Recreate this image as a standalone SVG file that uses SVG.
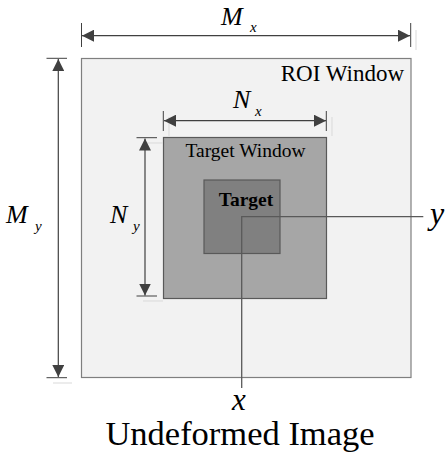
<svg xmlns="http://www.w3.org/2000/svg" width="446" height="456" viewBox="0 0 446 456">
<defs>
<style>
.lbl{font-family:"Liberation Serif","Times New Roman",serif;fill:#000}
.it{font-style:italic}
.dim{stroke:#404040;stroke-width:1.2;fill:none}
.tick{stroke:#404040;stroke-width:1}
.faint{stroke:#d9d9d9;stroke-width:1}
.axis{stroke:#595959;stroke-width:1.3;fill:none}
</style>
<marker id="ah" viewBox="0 0 12 12" refX="12" refY="6" markerWidth="12" markerHeight="12" markerUnits="userSpaceOnUse" orient="auto-start-reverse">
<path d="M0,0 L12,6 L0,12 Z" fill="#404040"/>
</marker>
</defs>
<rect width="446" height="456" fill="#ffffff"/>
<g id="roi-window">
<rect x="81.5" y="58.5" width="329.5" height="319" fill="#f2f2f2" stroke="#7f7f7f" stroke-width="1.2"/>
<text class="lbl" x="404" y="80.5" font-size="23" text-anchor="end">ROI Window</text>
</g>
<g id="target-window">
<rect x="163.5" y="137.5" width="163" height="161" fill="#a6a6a6" stroke="#595959" stroke-width="1.2"/>
<text class="lbl" x="245.5" y="157" font-size="19.5" text-anchor="middle" fill="#262626">Target Window</text>
</g>
<g id="target">
<rect x="204" y="180" width="76" height="73.5" fill="#808080" stroke="#595959" stroke-width="1.2"/>
<text class="lbl" x="246" y="206" font-size="19.5" font-weight="bold" text-anchor="middle" fill="#1a1a1a">Target</text>
</g>
<g id="connectors">
<line class="tick" x1="81.5" y1="23" x2="81.5" y2="47"/>
<line class="tick" x1="410.7" y1="23" x2="410.7" y2="47"/>
<line class="faint" x1="416" y1="30" x2="416" y2="50"/>
<line class="dim" x1="82" y1="35.7" x2="410" y2="35.7" marker-start="url(#ah)" marker-end="url(#ah)"/>
<line class="tick" x1="46.5" y1="58.3" x2="67" y2="58.3"/>
<line class="tick" x1="46.5" y1="377.7" x2="67" y2="377.7"/>
<line class="faint" x1="53" y1="383" x2="72" y2="383"/>
<line class="dim" x1="58.3" y1="59" x2="58.3" y2="377" marker-start="url(#ah)" marker-end="url(#ah)"/>
<line class="tick" x1="136.5" y1="137.7" x2="157" y2="137.7"/>
<line class="tick" x1="136.5" y1="296" x2="157" y2="296"/>
<line class="faint" x1="143" y1="143" x2="163" y2="143"/>
<line class="faint" x1="143" y1="301" x2="163" y2="301"/>
<line class="dim" x1="145" y1="138.5" x2="145" y2="295.5" marker-start="url(#ah)" marker-end="url(#ah)"/>
<line class="tick" x1="163.3" y1="111" x2="163.3" y2="131"/>
<line class="tick" x1="326.3" y1="111" x2="326.3" y2="131"/>
<line class="faint" x1="169" y1="117" x2="169" y2="136"/>
<line class="faint" x1="332" y1="117" x2="332" y2="136"/>
<line class="dim" x1="164" y1="120.7" x2="326" y2="120.7" marker-start="url(#ah)" marker-end="url(#ah)"/>
<polyline class="axis" points="423.3,216.7 241.7,216.7 241.7,388"/>
</g>
<g id="labels">
<text class="lbl it" x="221" y="25" font-size="26">M</text>
<text class="lbl it" x="250" y="32" font-size="15">x</text>
<text class="lbl it" x="6" y="223" font-size="26">M</text>
<text class="lbl it" x="35" y="231" font-size="15">y</text>
<text class="lbl it" x="110" y="223" font-size="26">N</text>
<text class="lbl it" x="133" y="231" font-size="15">y</text>
<text class="lbl it" x="233" y="108" font-size="26">N</text>
<text class="lbl it" x="255" y="116" font-size="15">x</text>
<text class="lbl it" x="430" y="224" font-size="32">y</text>
<text class="lbl it" x="232" y="410" font-size="31">x</text>
<text class="lbl" x="240" y="445" font-size="34.5" text-anchor="middle">Undeformed Image</text>
</g>
</svg>
